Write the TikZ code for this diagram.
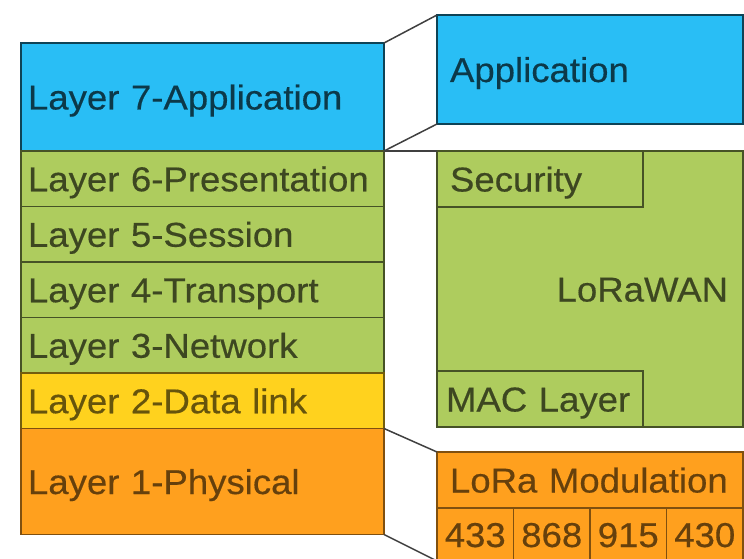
\documentclass[tikz,border=0pt]{standalone}
\usepackage{fontspec}
\setmainfont{Liberation Sans}[FakeStretch=1.06, FakeBold=0.4]
\usepackage{tikz}
\usetikzlibrary{positioning}
\definecolor{appblue}{RGB}{41,190,245}
\definecolor{wangreen}{RGB}{174,204,94}
\definecolor{linkyellow}{RGB}{255,210,30}
\definecolor{phyorange}{RGB}{255,160,30}
\tikzstyle{box} = [rectangle, draw, line width=1.7pt, inner ysep=0pt, outer sep=0pt, text height=25pt, text depth=0pt, font=\fontsize{34.5}{38}\selectfont]
\tikzstyle{osi} = [box, minimum width=363pt, text width=349pt, inner xsep=7pt, align=left, minimum height=55.5pt]
\tikzstyle{lora} = [box, minimum width=306pt, text width=280pt, inner xsep=13pt, align=left, minimum height=56pt]
\tikzstyle{freq} = [box, minimum width=76.5pt, minimum height=53pt, inner xsep=0pt]
\tikzstyle{appcol} = [fill=appblue, draw=appblue!35!black, text=appblue!30!black]
\tikzstyle{wancol} = [fill=wangreen, draw=wangreen!40!black, text=wangreen!35!black]
\tikzstyle{linkcol} = [fill=linkyellow, draw=linkyellow!45!black, text=linkyellow!40!black]
\tikzstyle{phycol} = [fill=phyorange, draw=phyorange!50!black, text=phyorange!40!black]
\tikzstyle{link} = [draw=black!75, line width=1.5pt]

\begin{document}
\begin{tikzpicture}[x=1pt, y=-1pt]
    \useasboundingbox (0,0) rectangle (744,559);

    % OSI stack
    \node[osi, appcol, minimum height=108pt, anchor=north west] (l7) at (21,43) {Layer 7-Application};
    \node[osi, wancol, below=0pt of l7] (l6) {Layer 6-Presentation};
    \node[osi, wancol, below=0pt of l6] (l5) {Layer 5-Session};
    \node[osi, wancol, below=0pt of l5] (l4) {Layer 4-Transport};
    \node[osi, wancol, below=0pt of l4] (l3) {Layer 3-Network};
    \node[osi, linkcol, below=0pt of l3] (l2) {Layer 2-Data link};
    \node[osi, phycol, minimum height=106pt, below=0pt of l2] (l1) {Layer 1-Physical};

    % LoRa stack
    \node[lora, appcol, minimum height=109pt, anchor=north west] (app) at (437,15) {Application};
    \node[lora, wancol, minimum height=276pt, text width=276pt, inner xsep=15pt, align=right, anchor=north west] (lorawan) at (437,151) {LoRaWAN};
    \node[lora, wancol, minimum width=206pt, text width=180pt, anchor=north west] (security) at (lorawan.north west) {Security};
    \node[lora, wancol, minimum width=206pt, text width=188pt, inner xsep=9pt, anchor=south west] (mac) at (lorawan.south west) {MAC Layer};
    \node[lora, phycol, anchor=north west] (mod) at (437,452) {LoRa Modulation};
    \node[freq, phycol, below right=0pt and 0pt of mod.south west] (f433) {433};
    \node[freq, phycol, right=0pt of f433] (f868) {868};
    \node[freq, phycol, right=0pt of f868] (f915) {915};
    \node[freq, phycol, right=0pt of f915] (f430) {430};

    \draw[link] (l7.north east) -- (app.north west);
    \draw[link] (l7.south east) -- (app.south west);
    \draw[link] (l6.north east) -- (lorawan.north west);
    \draw[link] (l1.north east) -- (mod.north west);
    \draw[link] (l1.south east) -- (f433.south west);

\end{tikzpicture}
\end{document}
